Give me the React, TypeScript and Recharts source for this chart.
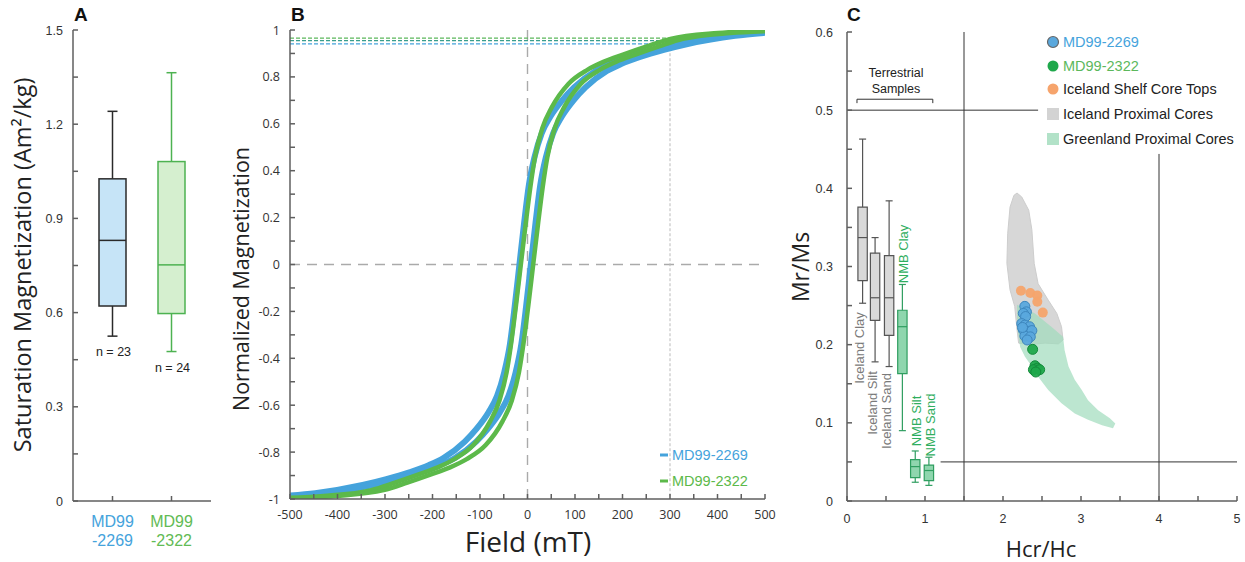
import React from "react";
import {
  ComposedChart,
  Bar,
  Line,
  Scatter,
  XAxis,
  YAxis,
  ReferenceLine,
  ReferenceArea,
} from "recharts";

const TICK_FONT = "'Liberation Sans', Arial, sans-serif";
const TITLE_FONT = "'Open Sans', sans-serif";
const SPINE = "#5f5f5f";

// ---------- A: saturation magnetization
const coreNames = ["MD99-2269", "MD99-2322"];
const satMin = [0.525, 0.476];
const satQ1 = [0.621, 0.597];
const satMedian = [0.83, 0.752];
const satQ3 = [1.026, 1.081];
const satMax = [1.241, 1.364];
const satCounts = [23, 24];
const satTicks = [0, 0.15, 0.3, 0.45, 0.6, 0.75, 0.9, 1.05, 1.2, 1.35, 1.5];

const coreText = ["#45a3dc", "#62bb55"];
const boxFillA = ["#c6e4f7", "#d5efcf"];
const boxStrokeA = ["#2a2a2a", "#4db251"];

// ---------- B: hysteresis loops (field mT -> normalized M)
const blueDownField = [-500, -447, -347, -297, -247, -207, -177, -132, -107, -82, -64, -49, -37, -27, -17, -7, 3, 15, 30, 48, 73, 98, 143, 173, 213, 263, 313, 413, 500];
const blueDownMag = [-0.985, -0.975, -0.94, -0.915, -0.885, -0.855, -0.825, -0.755, -0.7, -0.63, -0.56, -0.46, -0.34, -0.18, 0, 0.18, 0.34, 0.46, 0.56, 0.63, 0.7, 0.755, 0.825, 0.855, 0.885, 0.915, 0.94, 0.975, 0.992];
const blueUpField = [-500, -423, -323, -273, -223, -183, -153, -108, -83, -58, -40, -25, -13, -3, 7, 17, 27, 39, 54, 72, 97, 122, 167, 197, 237, 287, 337, 437, 500];
const blueUpMag = [-0.992, -0.975, -0.94, -0.915, -0.885, -0.855, -0.825, -0.755, -0.7, -0.63, -0.56, -0.46, -0.34, -0.18, 0, 0.18, 0.34, 0.46, 0.56, 0.63, 0.7, 0.755, 0.825, 0.855, 0.885, 0.915, 0.94, 0.975, 0.988];
const greenDownField = [-500, -429, -329, -279, -229, -189, -154, -114, -79, -59, -44, -34, -24, -14, -4, 6, 16, 31, 51, 86, 126, 161, 201, 251, 301, 401, 500];
const greenDownMag = [-0.995, -0.987, -0.962, -0.93, -0.895, -0.865, -0.83, -0.77, -0.67, -0.58, -0.46, -0.33, -0.17, 0, 0.17, 0.33, 0.46, 0.58, 0.67, 0.77, 0.83, 0.865, 0.895, 0.93, 0.962, 0.987, 0.998];
const greenUpField = [-500, -403, -303, -253, -203, -163, -128, -88, -53, -33, -18, -8, 2, 12, 22, 32, 42, 57, 77, 112, 152, 187, 227, 277, 327, 427, 500];
const greenUpMag = [-0.998, -0.987, -0.962, -0.93, -0.895, -0.865, -0.83, -0.77, -0.67, -0.58, -0.46, -0.33, -0.17, 0, 0.17, 0.33, 0.46, 0.58, 0.67, 0.77, 0.83, 0.865, 0.895, 0.93, 0.962, 0.987, 0.995];
const satLevels = [0.965, 0.955, 0.941];
const satLevelColors = ["#5cb85c", "#3a9e8c", "#45a3dc"];
const fieldTicks = [-500, -450, -400, -350, -300, -250, -200, -150, -100, -50, 0, 50, 100, 150, 200, 250, 300, 350, 400, 450, 500];
const magTicks = [-1, -0.9, -0.8, -0.7, -0.6, -0.5, -0.4, -0.3, -0.2, -0.1, 0, 0.1, 0.2, 0.3, 0.4, 0.5, 0.6, 0.7, 0.8, 0.9, 1];

// ---------- C: Day plot
const terrNames = ["Iceland Clay", "Iceland Silt", "Iceland Sand", "NMB Clay", "NMB Silt", "NMB Sand"];
const terrX = [0.2, 0.36, 0.54, 0.71, 0.875, 1.05];
const terrMin = [0.253, 0.178, 0.172, 0.09, 0.024, 0.02];
const terrQ1 = [0.282, 0.231, 0.212, 0.163, 0.03, 0.026];
const terrMed = [0.337, 0.26, 0.26, 0.223, 0.044, 0.039];
const terrQ3 = [0.376, 0.317, 0.314, 0.244, 0.053, 0.046];
const terrMax = [0.463, 0.337, 0.384, 0.277, 0.064, 0.056];

const icelandPolyX = [2.18, 2.24, 2.33, 2.37, 2.4, 2.45, 2.58, 2.69, 2.75, 2.77, 2.71, 2.54, 2.33, 2.2, 2.18, 2.15, 2.09, 2.05, 2.06, 2.09, 2.14];
const icelandPolyY = [0.394, 0.389, 0.372, 0.347, 0.304, 0.278, 0.257, 0.24, 0.223, 0.206, 0.201, 0.202, 0.2, 0.202, 0.219, 0.249, 0.27, 0.304, 0.342, 0.376, 0.391];
const greenlandPolyX = [2.18, 2.41, 2.62, 2.77, 2.79, 2.84, 2.92, 3.01, 3.09, 3.22, 3.37, 3.44, 3.41, 3.27, 3.09, 2.92, 2.75, 2.58, 2.45, 2.37, 2.28, 2.22, 2.18];
const greenlandPolyY = [0.251, 0.24, 0.223, 0.21, 0.193, 0.172, 0.155, 0.142, 0.129, 0.116, 0.106, 0.099, 0.093, 0.097, 0.104, 0.112, 0.125, 0.142, 0.159, 0.172, 0.185, 0.197, 0.223];

const shelfX = [2.23, 2.35, 2.44, 2.44, 2.51];
const shelfY = [0.269, 0.266, 0.263, 0.255, 0.241];
const md2269X = [2.28, 2.3, 2.26, 2.29, 2.24, 2.28, 2.34, 2.26, 2.32, 2.37, 2.28, 2.35, 2.31, 2.25];
const md2269Y = [0.249, 0.242, 0.24, 0.236, 0.227, 0.225, 0.223, 0.219, 0.217, 0.218, 0.211, 0.21, 0.206, 0.222];
const md2322X = [2.38, 2.41, 2.44, 2.39, 2.47, 2.42];
const md2322Y = [0.194, 0.173, 0.17, 0.168, 0.168, 0.165];

const hcrTicks = [0, 0.5, 1, 1.5, 2, 2.5, 3, 3.5, 4, 4.5, 5];
const mrTicks = [0, 0.05, 0.1, 0.15, 0.2, 0.25, 0.3, 0.35, 0.4, 0.45, 0.5, 0.55, 0.6];

const pts = (xs: number[], ys: number[]) => xs.map((x, i) => ({ x, y: ys[i] }));
const curve = (hs: number[], ms: number[]) => hs.map((h, i) => ({ h, m: ms[i] }));
const closedPath = (points: { x: number; y: number }[]) =>
  "M" + points.map((p) => `${p.x},${p.y}`).join("L") + "Z";

// tick renderers: only major ticks get a text, minor ones just the tick line
const leftTick = (fmt: (v: number) => string, font: string) => (props: any) => {
  const label = fmt(props.payload.value);
  if (!label) return <g />;
  return (
    <text x={props.x} y={props.y} dy="0.36em" textAnchor="end" fontSize={12.5} fill="#333" fontFamily={font}>
      {label}
    </text>
  );
};
const bottomTick = (fmt: (v: number) => string, font: string) => (props: any) => {
  const label = fmt(props.payload.value);
  if (!label) return <g />;
  return (
    <text x={props.x} y={props.y} dy="0.72em" textAnchor="middle" fontSize={12.5} fill="#333" fontFamily={font}>
      {label}
    </text>
  );
};

function SatBox(props: any) {
  const { x, y, width, height, payload } = props;
  const top = Math.min(y, y + height);
  const bot = Math.max(y, y + height);
  const py = (v: number) => top + ((payload.max - v) / (payload.max - payload.min)) * (bot - top);
  const cx = x + width / 2;
  const i = payload.idx;
  const s = boxStrokeA[i];
  return (
    <g>
      <line x1={cx} x2={cx} y1={py(payload.max)} y2={py(payload.q3)} stroke={s} strokeWidth={1.5} />
      <line x1={cx} x2={cx} y1={py(payload.q1)} y2={py(payload.min)} stroke={s} strokeWidth={1.5} />
      <line x1={cx - 5} x2={cx + 5} y1={py(payload.max)} y2={py(payload.max)} stroke={s} strokeWidth={1.5} />
      <line x1={cx - 5} x2={cx + 5} y1={py(payload.min)} y2={py(payload.min)} stroke={s} strokeWidth={1.5} />
      <rect x={x} y={py(payload.q3)} width={width} height={py(payload.q1) - py(payload.q3)} fill={boxFillA[i]} stroke={s} strokeWidth={1.5} />
      <line x1={x} x2={x + width} y1={py(payload.med)} y2={py(payload.med)} stroke={s} strokeWidth={1.5} />
      <text x={cx + 1} y={py(payload.min) + 20} textAnchor="middle" fontSize={12.5} fill="#222" fontFamily={TICK_FONT}>
        n = {payload.n}
      </text>
    </g>
  );
}

function CoreTick(props: any) {
  const { x, y, payload, index } = props;
  const name: string = String(payload.value);
  return (
    <text x={x} y={y} textAnchor="middle" fill={coreText[index]} fontSize={16} fontFamily={TICK_FONT}>
      <tspan x={x} dy={21}>{name.slice(0, 4)}</tspan>
      <tspan x={x} dy={19}>{name.slice(4)}</tspan>
    </text>
  );
}

const fmtSat = (v: number) => (Math.abs(v / 0.3 - Math.round(v / 0.3)) < 1e-6 ? (v === 0 ? "0" : v.toFixed(1)) : "");
const fmtField = (v: number) => (v % 100 === 0 ? String(v) : "");
const fmtMag = (v: number) => (Math.abs(v * 5 - Math.round(v * 5)) < 1e-6 ? String(Math.round(v * 10) / 10) : "");
const fmtHcr = (v: number) => (Number.isInteger(v) ? String(v) : "");
const fmtMr = (v: number) => (Math.abs(v * 10 - Math.round(v * 10)) < 1e-6 ? (v === 0 ? "0" : v.toFixed(1)) : "");

function PanelA() {
  const data = coreNames.map((name, i) => ({
    name,
    range: [satMin[i], satMax[i]],
    min: satMin[i],
    q1: satQ1[i],
    med: satMedian[i],
    q3: satQ3[i],
    max: satMax[i],
    n: satCounts[i],
    idx: i,
  }));
  return (
    <div style={{ position: "absolute", left: 0, top: 0 }}>
      <ComposedChart width={225} height={562} data={data} margin={{ top: 30, right: 14, bottom: 0, left: 0 }}>
        <XAxis dataKey="name" height={61} padding={{ left: 10, right: 10 }} tickSize={-5} tickMargin={10} stroke={SPINE} strokeWidth={1.5} tick={<CoreTick />} interval={0} />
        <YAxis type="number" domain={[0, 1.5]} ticks={satTicks} interval={0} width={73} tickSize={-5} tickMargin={15} stroke={SPINE} strokeWidth={1.5}
          tick={leftTick(fmtSat, TICK_FONT)} />
        <XAxis xAxisId="top" dataKey="name" orientation="top" height={0} tick={false} tickLine={false} stroke={SPINE} strokeWidth={1.5} />
        <YAxis yAxisId="right" orientation="right" width={0} domain={[0, 1.5]} tick={false} tickLine={false} stroke={SPINE} strokeWidth={1.5} />
        <Bar dataKey="range" barSize={27} shape={<SatBox />} isAnimationActive={false} />
      </ComposedChart>
    </div>
  );
}

function PanelB() {
  return (
    <div style={{ position: "absolute", left: 228, top: 0 }}>
      <ComposedChart width={560} height={562} margin={{ top: 30, right: 23, bottom: 0, left: 0 }}>
        <XAxis type="number" dataKey="h" domain={[-500, 500]} ticks={fieldTicks} interval={0} allowDataOverflow height={63}
          tickSize={-5} tickMargin={16} stroke={SPINE} strokeWidth={1.5} tick={bottomTick(fmtField, TITLE_FONT)} />
        <YAxis type="number" domain={[-1, 1]} ticks={magTicks} interval={0} width={62} allowDataOverflow
          tickSize={-5} tickMargin={15} stroke={SPINE} strokeWidth={1.5} tick={leftTick(fmtMag, TITLE_FONT)} />
        <XAxis xAxisId="top" orientation="top" type="number" domain={[-500, 500]} height={0} tick={false} tickLine={false} stroke={SPINE} strokeWidth={1.5} />
        <YAxis yAxisId="right" orientation="right" type="number" domain={[-1, 1]} width={0} tick={false} tickLine={false} stroke={SPINE} strokeWidth={1.5} />

        <ReferenceLine x={0} stroke="#aaa" strokeWidth={1.4} strokeDasharray="10 7" />
        <ReferenceLine y={0} stroke="#aaa" strokeWidth={1.4} strokeDasharray="10 7" />
        <ReferenceLine segment={[{ x: 300, y: satLevels[0] }, { x: 300, y: -1 }]} stroke="#bbb" strokeWidth={1} strokeDasharray="3 2" />
        {satLevels.map((lv, i) => (
          <ReferenceLine key={i} segment={[{ x: -500, y: lv }, { x: 300, y: lv }]} stroke={satLevelColors[i]} strokeWidth={1.2} strokeDasharray="4 2" />
        ))}

        <Line data={curve(blueDownField, blueDownMag)} dataKey="m" type="monotone" dot={false} stroke="#45a3dc" strokeWidth={6} isAnimationActive={false} />
        <Line data={curve(blueUpField, blueUpMag)} dataKey="m" type="monotone" dot={false} stroke="#45a3dc" strokeWidth={6} isAnimationActive={false} />
        <Line data={curve(greenDownField, greenDownMag)} dataKey="m" type="monotone" dot={false} stroke="#5cb94a" strokeWidth={4.5} isAnimationActive={false} />
        <Line data={curve(greenUpField, greenUpMag)} dataKey="m" type="monotone" dot={false} stroke="#5cb94a" strokeWidth={4.5} isAnimationActive={false} />
      </ComposedChart>
    </div>
  );
}

const circleShape = (fill: string, stroke: string) => (p: any) => (
  <circle cx={p.cx} cy={p.cy} r={5} fill={fill} stroke={stroke} strokeWidth={1} fillOpacity={0.95} />
);

function PanelC() {
  return (
    <div style={{ position: "absolute", left: 780, top: 0 }}>
      <ComposedChart width={465} height={562} margin={{ top: 32, right: 8, bottom: 0, left: 0 }}>
        <XAxis type="number" dataKey="x" domain={[0, 5]} ticks={hcrTicks} interval={0} height={61}
          tickSize={-5} tickMargin={18} stroke={SPINE} strokeWidth={1.5} tick={bottomTick(fmtHcr, TICK_FONT)} />
        <YAxis type="number" dataKey="y" domain={[0, 0.6]} ticks={mrTicks} interval={0} width={67}
          tickSize={-5} tickMargin={19} stroke={SPINE} strokeWidth={1.5} tick={leftTick(fmtMr, TICK_FONT)} />
        <XAxis xAxisId="top" orientation="top" type="number" domain={[0, 5]} height={0} tick={false} tickLine={false} stroke={SPINE} strokeWidth={1.5} />
        <YAxis yAxisId="right" orientation="right" type="number" domain={[0, 0.6]} width={0} tick={false} tickLine={false} stroke={SPINE} strokeWidth={1.5} />

        {/* Day plot domain lines */}
        <ReferenceLine x={1.5} stroke="#333" strokeWidth={1} />
        <ReferenceLine segment={[{ x: 0, y: 0.5 }, { x: 2.45, y: 0.5 }]} stroke="#333" strokeWidth={1} />
        <ReferenceLine segment={[{ x: 4, y: 0 }, { x: 4, y: 0.444 }]} stroke="#333" strokeWidth={1} />
        <ReferenceLine segment={[{ x: 1.2, y: 0.05 }, { x: 5, y: 0.05 }]} stroke="#333" strokeWidth={1} />

        {/* terrestrial bracket */}
        <ReferenceLine segment={[{ x: 0.128, y: 0.509 }, { x: 0.128, y: 0.514 }]} stroke="#333" strokeWidth={1} />
        <ReferenceLine segment={[{ x: 0.128, y: 0.514 }, { x: 1.1, y: 0.514 }]} stroke="#333" strokeWidth={1} />
        <ReferenceLine segment={[{ x: 1.1, y: 0.514 }, { x: 1.1, y: 0.509 }]} stroke="#333" strokeWidth={1} />

        {/* terrestrial box plots */}
        {terrNames.map((name, i) => {
          const nmb = name.startsWith("NMB");
          const stroke = nmb ? "#2f9e60" : "#555";
          const fill = nmb ? "#8fd6ae" : "#d9d9d9";
          const c = terrX[i];
          const hw = 0.06;
          const cw = 0.045;
          return (
            <React.Fragment key={name}>
              <ReferenceLine segment={[{ x: c, y: terrQ3[i] }, { x: c, y: terrMax[i] }]} stroke={stroke} strokeWidth={1.2} />
              <ReferenceLine segment={[{ x: c, y: terrMin[i] }, { x: c, y: terrQ1[i] }]} stroke={stroke} strokeWidth={1.2} />
              <ReferenceLine segment={[{ x: c - cw, y: terrMax[i] }, { x: c + cw, y: terrMax[i] }]} stroke={stroke} strokeWidth={1.2} />
              <ReferenceLine segment={[{ x: c - cw, y: terrMin[i] }, { x: c + cw, y: terrMin[i] }]} stroke={stroke} strokeWidth={1.2} />
              <ReferenceArea x1={c - hw} x2={c + hw} y1={terrQ1[i]} y2={terrQ3[i]} fill={fill} fillOpacity={1} stroke={stroke} strokeWidth={1.2} />
              <ReferenceLine segment={[{ x: c - hw, y: terrMed[i] }, { x: c + hw, y: terrMed[i] }]} stroke={stroke} strokeWidth={1.2} />
            </React.Fragment>
          );
        })}

        <Scatter data={pts(icelandPolyX, icelandPolyY)} shape={() => <g />} lineType="joint" isAnimationActive={false}
          line={(p: any) => <path d={closedPath(p.points)} fill="#d3d3d3" fillOpacity={0.9} stroke="#cdcdcd" strokeWidth={1} />} />
        <Scatter data={pts(greenlandPolyX, greenlandPolyY)} shape={() => <g />} lineType="joint" isAnimationActive={false}
          line={(p: any) => <path d={closedPath(p.points)} fill="#9fdcbc" fillOpacity={0.7} stroke="none" />} />

        <Scatter data={pts(shelfX, shelfY)} shape={circleShape("#f6a46c", "none")} isAnimationActive={false} />
        <Scatter data={pts(md2269X, md2269Y)} shape={circleShape("#5aa8dd", "#3d86bd")} isAnimationActive={false} />
        <Scatter data={pts(md2322X, md2322Y)} shape={circleShape("#1fa84b", "#138a3a")} isAnimationActive={false} />
      </ComposedChart>
    </div>
  );
}

function Overlay() {
  const letter = { fontSize: 19, fontWeight: 700, fill: "#111", fontFamily: TICK_FONT } as const;
  const boxLabels = [
    { t: terrNames[0], x: 859, y: 348, c: "#7a7a7a" },
    { t: terrNames[1], x: 872, y: 403, c: "#7a7a7a" },
    { t: terrNames[2], x: 886, y: 411, c: "#7a7a7a" },
    { t: terrNames[3], x: 903, y: 254, c: "#2fae5e" },
    { t: terrNames[4], x: 916, y: 421, c: "#2fae5e" },
    { t: terrNames[5], x: 930, y: 425, c: "#2fae5e" },
  ];
  const legendC = [
    { t: "MD99-2269", c: "#45a3dc", kind: "c", fill: "#5aa8dd", stroke: "#666", y: 42 },
    { t: "MD99-2322", c: "#5cb85c", kind: "c", fill: "#1fa84b", stroke: "none", y: 66 },
    { t: "Iceland Shelf Core Tops", c: "#222", kind: "c", fill: "#f6a46c", stroke: "none", y: 89 },
    { t: "Iceland Proximal Cores", c: "#222", kind: "s", fill: "#d3d3d3", stroke: "none", y: 114 },
    { t: "Greenland Proximal Cores", c: "#222", kind: "s", fill: "#b2e2c8", stroke: "none", y: 139 },
  ];
  return (
    <svg width={1245} height={562} style={{ position: "absolute", left: 0, top: 0, pointerEvents: "none" }}>
      <text x={74} y={21} {...letter}>A</text>
      <text x={291} y={21} {...letter}>B</text>
      <text x={847} y={21} {...letter}>C</text>

      <text transform="translate(22,265) rotate(-90)" textAnchor="middle" dominantBaseline="central" fontSize={23.5} fill="#222" fontFamily={TITLE_FONT}>
        Saturation Magnetization (Am²/kg)
      </text>
      <text transform="translate(240,279) rotate(-90)" textAnchor="middle" dominantBaseline="central" fontSize={21.5} fill="#222" fontFamily={TITLE_FONT}>
        Normalized Magnetization
      </text>
      <text x={528} y={552} textAnchor="middle" fontSize={28} fill="#222" fontFamily={TITLE_FONT}>
        Field (mT)
      </text>
      <text transform="translate(800,267) rotate(-90)" textAnchor="middle" dominantBaseline="central" fontSize={23} fill="#222" fontFamily={TITLE_FONT}>
        Mr/Ms
      </text>
      <text x={1041} y={548} textAnchor="middle" dominantBaseline="central" fontSize={22} fill="#222" fontFamily={TITLE_FONT}>
        Hcr/Hc
      </text>

      {/* B legend */}
      <line x1={660} x2={668} y1={455} y2={455} stroke="#45a3dc" strokeWidth={3} />
      <text x={672} y={455} dominantBaseline="central" fontSize={14.5} fill="#45a3dc" fontFamily={TICK_FONT}>MD99-2269</text>
      <line x1={660} x2={668} y1={481} y2={481} stroke="#5cb94a" strokeWidth={3} />
      <text x={672} y={481} dominantBaseline="central" fontSize={14.5} fill="#5cb94a" fontFamily={TICK_FONT}>MD99-2322</text>

      {/* C annotations */}
      <text x={896} y={73} textAnchor="middle" dominantBaseline="central" fontSize={12.5} fill="#222" fontFamily={TICK_FONT}>Terrestrial</text>
      <text x={896} y={89} textAnchor="middle" dominantBaseline="central" fontSize={12.5} fill="#222" fontFamily={TICK_FONT}>Samples</text>
      {boxLabels.map((b) => (
        <text key={b.t} transform={`translate(${b.x},${b.y}) rotate(-90)`} textAnchor="middle" dominantBaseline="central" fontSize={13} fill={b.c} fontFamily={TICK_FONT}>
          {b.t}
        </text>
      ))}
      {legendC.map((l) =>
        <g key={l.t}>
          {l.kind === "c" ? (
            <circle cx={1053} cy={l.y} r={5.5} fill={l.fill} stroke={l.stroke} strokeWidth={1.2} />
          ) : (
            <rect x={1047} y={l.y - 6} width={12} height={12} fill={l.fill} stroke={l.stroke} />
          )}
          <text x={1063} y={l.y} dominantBaseline="central" fontSize={14.5} fill={l.c} fontFamily={TICK_FONT}>{l.t}</text>
        </g>
      )}
    </svg>
  );
}

export default function App() {
  return (
    <div style={{ position: "absolute", left: 0, top: 0, width: 1245, height: 562, background: "#fff", fontFamily: TICK_FONT }}>
      <PanelA />
      <PanelB />
      <PanelC />
      <Overlay />
    </div>
  );
}
